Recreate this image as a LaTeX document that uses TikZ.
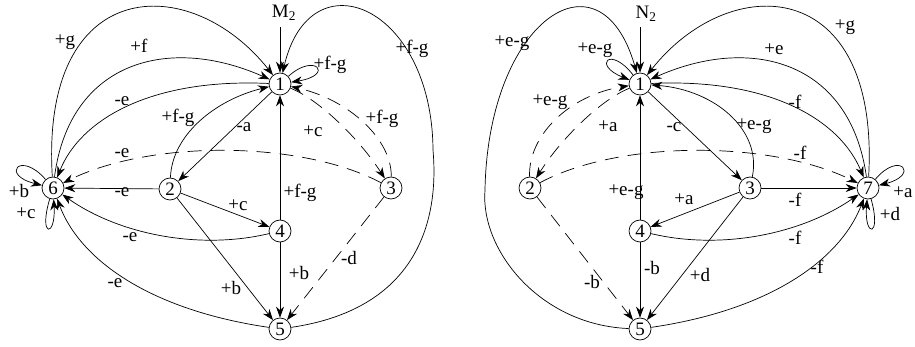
\documentclass[tikz,border=0pt]{standalone}
\usepackage{fontspec}
\setmainfont{Liberation Serif}
\newfontfamily\timesf{Liberation Serif}
\usetikzlibrary{arrows.meta}
\begin{document}
\begin{tikzpicture}[x=1pt,y=-1pt,
  st/.style={draw,circle,line width=0.7pt,minimum size=22pt,inner sep=0pt,font=\timesf\fontsize{19}{19}\selectfont},
  lbl/.style={inner sep=0pt,font=\timesf\fontsize{19}{19}\selectfont},
  arr/.style={line width=0.7pt,-{Stealth[length=11pt,width=8pt,inset=3.5pt]}},
  dsh/.style={dash pattern=on 14pt off 9pt}]
\useasboundingbox (0,0) rectangle (915,347);

% ---------------- left graph ----------------
\node[st] (L1) at (280,84) {1};
\node[st] (L2) at (170,189) {2};
\node[st] (L3) at (391,188) {3};
\node[st] (L4) at (280,231) {4};
\node[st] (L5) at (280,329) {5};
\node[st] (L6) at (53,188) {6};
\node[lbl] (M2) at (284,13) {M\textsubscript{2}};
\coordinate (m2s) at (280,27);

\draw[arr] (m2s) -- (L1);
\draw[arr] (L1) .. controls (315,52) and (335,75) .. (L1);
\draw[arr] (L5) .. controls (410,310) and (440,230) .. (433,150) .. controls (432,5) and (310,-45) .. (L1);
\draw[arr] (L1) -- (L2);
\draw[arr] (L2) .. controls (172,135) and (215,100) .. (L1);
\draw[arr] (L1) .. controls (150,78) and (80,120) .. (L6);
\draw[arr] (L6) .. controls (70,60) and (170,35) .. (L1);
\draw[arr] (L6) .. controls (40,-25) and (190,-30) .. (L1);
\draw[arr,dsh] (L3) .. controls (300,140) and (150,140) .. (L6);
\draw[arr,dsh] (L1) .. controls (320,100) and (360,140) .. (L3);
\draw[arr,dsh] (L3) .. controls (392,140) and (350,100) .. (L1);
\draw[arr] (L2) -- (L6);
\draw[arr] (L2) -- (L4);
\draw[arr] (L2) -- (L5);
\draw[arr] (L4) .. controls (200,250) and (120,235) .. (L6);
\draw[arr] (L5) .. controls (150,310) and (80,260) .. (L6);
\draw[arr] (L4) -- (L1);
\draw[arr] (L4) -- (L5);
\draw[arr,dsh] (L3) -- (L5);
\draw[arr] (L6) .. controls (20,150) and (0,175) .. (L6);
\draw[arr] (L6) .. controls (38,238) and (56,238) .. (L6);

\node[lbl] (lg) at (65,42) {+g};
\node[lbl] (lf) at (139,46) {+f};
\node[lbl] (le1) at (122,101) {-e};
\node[lbl] (lfg2) at (178,118) {+f-g};
\node[lbl] (led) at (122,153) {-e};
\node[lbl] (la) at (244,127) {-a};
\node[lbl] (lcd) at (313,131) {+c};
\node[lbl] (lfgd) at (382,119) {+f-g};
\node[lbl] (lloop) at (330,65) {+f-g};
\node[lbl] (lbig) at (412,49) {+f-g};
\node[lbl] (lb6) at (19,191) {+b};
\node[lbl] (lc6) at (26,213) {+c};
\node[lbl] (le26) at (122,192) {-e};
\node[lbl] (le46) at (130,237) {-e};
\node[lbl] (le56) at (115,283) {-e};
\node[lbl] (lc24) at (238,205) {+c};
\node[lbl] (lfg41) at (300,193) {+f-g};
\node[lbl] (lb45) at (299,273) {+b};
\node[lbl] (lb25) at (231,288) {+b};
\node[lbl] (ld) at (349,258) {-d};

% ---------------- right graph ----------------
\node[st] (R1) at (640,84) {1};
\node[st] (R2) at (530,188) {2};
\node[st] (R3) at (750,188) {3};
\node[st] (R4) at (640,231) {4};
\node[st] (R5) at (640,329) {5};
\node[st] (R7) at (868,188) {7};
\node[lbl] (N2) at (646,14) {N\textsubscript{2}};
\coordinate (n2s) at (640,27);

\draw[arr] (n2s) -- (R1);
\draw[arr] (R1) .. controls (610,45) and (592,65) .. (R1);
\draw[arr] (R5) .. controls (540,325) and (480,250) .. (485,190) .. controls (488,20) and (600,-55) .. (R1);
\draw[arr] (R1) -- (R3);
\draw[arr] (R3) .. controls (762,130) and (715,90) .. (R1);
\draw[arr] (R1) .. controls (770,78) and (840,120) .. (R7);
\draw[arr] (R7) .. controls (850,60) and (750,35) .. (R1);
\draw[arr] (R7) .. controls (880,-25) and (730,-30) .. (R1);
\draw[arr,dsh] (R2) .. controls (620,140) and (770,140) .. (R7);
\draw[arr,dsh] (R1) .. controls (600,100) and (560,140) .. (R2);
\draw[arr,dsh] (R2) .. controls (528,135) and (570,95) .. (R1);
\draw[arr] (R3) -- (R7);
\draw[arr] (R3) -- (R4);
\draw[arr] (R3) -- (R5);
\draw[arr] (R4) .. controls (720,250) and (800,235) .. (R7);
\draw[arr] (R5) .. controls (770,310) and (840,260) .. (R7);
\draw[arr] (R4) -- (R1);
\draw[arr] (R4) -- (R5);
\draw[arr,dsh] (R2) -- (R5);
\draw[arr] (R7) .. controls (900,150) and (920,175) .. (R7);
\draw[arr] (R7) .. controls (882,238) and (864,238) .. (R7);

\node[lbl] (rbig) at (512,43) {+e-g};
\node[lbl] (rloop) at (595,50) {+e-g};
\node[lbl] (rdo) at (550,102) {+e-g};
\node[lbl] (rad) at (608,126) {+a};
\node[lbl] (rc) at (674,127) {-c};
\node[lbl] (rg) at (845,27) {+g};
\node[lbl] (re) at (774,49) {+e};
\node[lbl] (rf1) at (795,102) {-f};
\node[lbl] (reg3) at (754,126) {+e-g};
\node[lbl] (rfd) at (800,153) {-f};
\node[lbl] (rf37) at (795,200) {-f};
\node[lbl] (rf47) at (795,238) {-f};
\node[lbl] (rf57) at (817,267) {-f};
\node[lbl] (ra7) at (903,192) {+a};
\node[lbl] (rd7) at (890,214) {+d};
\node[lbl] (rd35) at (700,275) {+d};
\node[lbl] (reg41) at (626,192) {+e-g};
\node[lbl] (ra34) at (684,199) {+a};
\node[lbl] (rb45) at (652,268) {-b};
\node[lbl] (rbd) at (592,282) {-b};
\end{tikzpicture}
\end{document}
